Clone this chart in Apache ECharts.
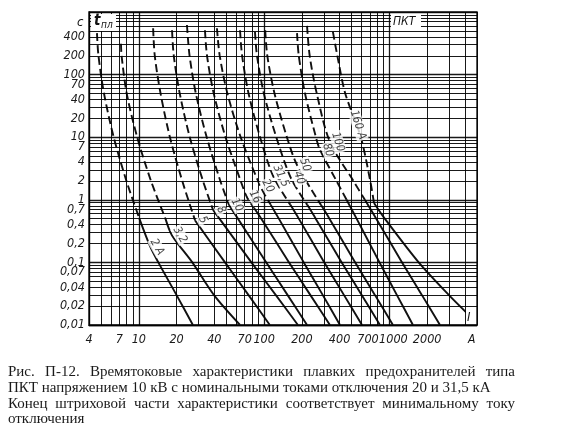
<!DOCTYPE html>
<html><head><meta charset="utf-8">
<script src="https://cdn.jsdelivr.net/npm/echarts@6/dist/echarts.min.js"></script>
<style>
html,body{margin:0;padding:0;background:#fff;}
#chart{position:absolute;left:0;top:0;width:567px;height:443px;}
#caption{position:absolute;left:8px;top:364px;width:507px;font-family:"Liberation Serif","DejaVu Serif",serif;font-size:15px;line-height:15.8px;color:#1a1a1a;}
#caption div{white-space:nowrap;}
#caption .j{text-align:justify;text-align-last:justify;white-space:normal;}
</style></head><body>
<div id="chart"></div>
<div id="caption">
<div class="j">Рис. П-12. Времятоковые характеристики плавких предохранителей типа</div>
<div>ПКТ напряжением 10 кВ с номинальными токами отключения 20 и 31,5 кА</div>
<div class="j">Конец штриховой части характеристики соответствует минимальному току</div>
<div>отключения</div>
</div>
<script>
// ---- data ----
const ratingLabels = ['2 A','3,2','5','8','10','16','20','31,5','40','50','80','100','160 A'];
const curveCurrents = [
  [4.63, 4.76, 5.27, 6.30, 7.96, 10.1, 12.3, 14.3, 20.0, 27.0],
  [7.2, 7.28, 8.0, 9.7, 12.5, 16.3, 18.4, 26.7, 39.8, 64.2],
  [13.0, 13.4, 14.9, 17.7, 22.2, 28.1, 48.7, 75.1, 111],
  [18.4, 19.0, 21.2, 25.5, 32.5, 39.1, 79.1, 124, 186],
  [24.2, 25.4, 28.5, 34.8, 44.7, 52.4, 104, 154, 220],
  [33.7, 35.0, 39.6, 49.2, 65.0, 73.0, 83.1, 94.9, 158, 234, 335],
  [42.0, 44.2, 50.9, 65.0, 92.6, 113, 131, 207, 294, 403],
  [64.2, 66.7, 75.1, 92.8, 118, 162, 189, 302, 434, 604],
  [84.5, 87.7, 99.5, 125, 164, 221, 258, 416, 602, 840],
  [102, 106, 121, 152, 183, 284, 332, 533, 767, 1067],
  [183, 189, 212, 259, 279, 378, 455, 547, 833, 1148, 1541],
  [220, 231, 263, 335, 516, 637, 785, 1261, 1818, 2532],
  [354, 384, 444, 591, 703, 753, 918, 1712, 2986, 4157]
];
const curveTimes = [
  [460, 200, 50, 10, 2, 0.5, 0.18, 0.1, 0.03, 0.01],
  [310, 200, 50, 10, 2, 0.5, 0.27, 0.1, 0.03, 0.01],
  [550, 200, 50, 10, 2, 0.47, 0.1, 0.03, 0.01],
  [510, 200, 50, 10, 2, 0.69, 0.1, 0.03, 0.01],
  [620, 200, 50, 10, 2, 0.83, 0.1, 0.03, 0.01],
  [510, 200, 50, 10, 2, 1.1, 0.74, 0.5, 0.1, 0.03, 0.01],
  [550, 200, 50, 10, 1.7, 0.83, 0.5, 0.1, 0.03, 0.01],
  [510, 200, 50, 10, 2.4, 0.83, 0.5, 0.1, 0.03, 0.01],
  [480, 200, 50, 10, 2.2, 0.83, 0.5, 0.1, 0.03, 0.01],
  [510, 200, 50, 10, 3.6, 0.83, 0.5, 0.1, 0.03, 0.01],
  [460, 200, 50, 10, 6.3, 2, 1, 0.5, 0.1, 0.03, 0.01],
  [600, 200, 50, 8.4, 2, 1, 0.5, 0.1, 0.03, 0.01],
  [480, 200, 50, 10, 2, 0.89, 0.5, 0.1, 0.03, 0.0155]
];
// index of the point where the dashed part ends (minimum breaking current)
const dashEndIndex = [5, 5, 5, 5, 5, 6, 5, 5, 5, 5, 6, 5, 5];
// where each rating label sits (current, time)
const labelCurrents = [13.96, 21.3, 32.5, 45.2, 60.7, 84.5, 107, 136, 190, 212, 323, 388, 561];
const labelTimes = [0.176, 0.274, 0.475, 0.687, 0.826, 1.11, 1.66, 2.40, 2.23, 3.6, 6.25, 8.4, 15.7];
// tick labels
const xTickValues = [4, 7, 10, 20, 40, 70, 100, 200, 400, 700, 1000, 2000];
const yTickValues = [0.01, 0.02, 0.04, 0.07, 0.1, 0.2, 0.4, 0.7, 1, 2, 4, 7, 10, 20, 40, 70, 100, 200, 400];
const xRange = [4, 5000];
const yRange = [0.01, 1000];

// ---- styling ----
const labelAngles = [-60, -60, -62, -62, -62, -62, -62, -65, -70, -70, -72, -72, -72];
const INK = '#111';
const FONT = '"DejaVu Sans Condensed","DejaVu Sans","Liberation Sans",sans-serif';

function logGridValues(lo, hi) {
  const out = [];
  for (let e = -3; e <= 4; e++) {
    for (let m = 1; m <= 9; m++) {
      const v = Number((m * Math.pow(10, e)).toPrecision(6));
      if (v >= lo - 1e-12 && v <= hi + 1e-9) out.push({ v, major: m === 1 });
    }
  }
  return out;
}
const gridLines = [];
logGridValues(xRange[0], xRange[1]).forEach(g => gridLines.push({ xAxis: g.v, lineStyle: { color: '#000', width: g.major ? 1.3 : 1, type: 'solid', opacity: 0.9 } }));
logGridValues(yRange[0], yRange[1]).forEach(g => gridLines.push({ yAxis: g.v, lineStyle: { color: '#000', width: g.major ? 1.3 : 1, type: 'solid', opacity: 0.9 } }));

const series = [{
  type: 'line', data: [[xRange[0], yRange[0]]], symbol: 'none', lineStyle: { width: 0 }, z: 1, silent: true,
  markLine: { silent: true, symbol: ['none', 'none'], label: { show: false }, data: gridLines, animation: false }
}];

curveCurrents.forEach((cur, i) => {
  const pts = cur.map((c, k) => [c, curveTimes[i][k]]);
  const s = dashEndIndex[i];
  series.push({
    type: 'line', smooth: 0.3, symbol: 'none', z: 3, silent: true,
    lineStyle: { color: INK, width: 1.9, type: [8, 4] },
    data: pts.slice(0, s + 1)
  });
  series.push({
    type: 'line', smooth: 0.3, symbol: 'none', z: 3, silent: true,
    lineStyle: { color: INK, width: 1.9, type: 'solid' },
    data: pts.slice(s)
  });
});

series.push({
  type: 'scatter', symbolSize: 1, itemStyle: { color: 'rgba(0,0,0,0)' }, z: 6, silent: true,
  data: ratingLabels.map((name, i) => ({
    value: [labelCurrents[i], labelTimes[i]],
    label: {
      show: true, position: 'inside', formatter: name, rotate: labelAngles[i],
      fontFamily: FONT, fontStyle: 'italic', fontSize: 11.5, color: INK,
      backgroundColor: '#fff', padding: [0, 1, 0, 1]
    }
  }))
});

const option = {
  animation: false,
  backgroundColor: '#fff',
  grid: { left: 89, top: 12, width: 388, height: 313, show: true, borderColor: INK, borderWidth: 1.4, backgroundColor: 'transparent' },
  xAxis: {
    type: 'log', logBase: 10, min: xRange[0], max: xRange[1],
    axisLine: { show: true, lineStyle: { color: INK, width: 1.4 } },
    axisTick: { show: false }, splitLine: { show: false },
    axisLabel: {
      customValues: xTickValues, interval: 0, margin: 8,
      fontFamily: FONT, fontStyle: 'italic', fontSize: 12.5, color: '#1a1a1a',
      formatter: v => {
        const n = +Number(v).toPrecision(6);
        if (n === 1000) return '{r|1000}';
        if (n === 700) return '{l|700}';
        return String(n);
      },
      rich: {
        r: { fontFamily: FONT, fontStyle: 'italic', fontSize: 12.5, color: '#1a1a1a', padding: [0, 0, 0, 8] },
        l: { fontFamily: FONT, fontStyle: 'italic', fontSize: 12.5, color: '#1a1a1a', padding: [0, 4, 0, 0] }
      }
    }
  },
  yAxis: {
    type: 'log', logBase: 10, min: yRange[0], max: yRange[1],
    axisLine: { show: true, lineStyle: { color: INK, width: 1.4 } },
    axisTick: { show: false }, splitLine: { show: false },
    axisLabel: {
      customValues: yTickValues, interval: 0, margin: 4,
      fontFamily: FONT, fontStyle: 'italic', fontSize: 12.5, color: '#1a1a1a',
      formatter: v => String(+Number(v).toPrecision(6)).replace('.', ',')
    }
  },
  series: series,
  graphic: [
    { type: 'rect', shape: { x: 91, y: 14, width: 25, height: 17 }, style: { fill: '#fff' }, z: 100 },
    { type: 'text', x: 94, y: 14, style: { text: 't', font: 'italic bold 15px ' + FONT, fill: INK }, z: 101 },
    { type: 'text', x: 101, y: 20, style: { text: 'пл', font: 'italic 10px ' + FONT, fill: INK }, z: 101 },
    { type: 'text', x: 77, y: 16, style: { text: 'c', font: 'italic 13px ' + FONT, fill: INK }, z: 101 },
    { type: 'rect', shape: { x: 391, y: 15, width: 30, height: 15 }, style: { fill: '#fff' }, z: 100 },
    { type: 'text', x: 393, y: 16, style: { text: 'ПКТ', font: 'italic 12px ' + FONT, fill: INK }, z: 101 },
    { type: 'rect', shape: { x: 466, y: 311, width: 9, height: 13 }, style: { fill: '#fff' }, z: 100 },
    { type: 'text', x: 467, y: 311, style: { text: 'I', font: 'italic 13px ' + FONT, fill: INK }, z: 101 },
    { type: 'text', x: 468, y: 334, style: { text: 'A', font: 'italic 12px ' + FONT, fill: INK }, z: 101 }
  ]
};
const chart = echarts.init(document.getElementById('chart'), null, { renderer: 'canvas' });
chart.setOption(option);
</script>
</body></html>
